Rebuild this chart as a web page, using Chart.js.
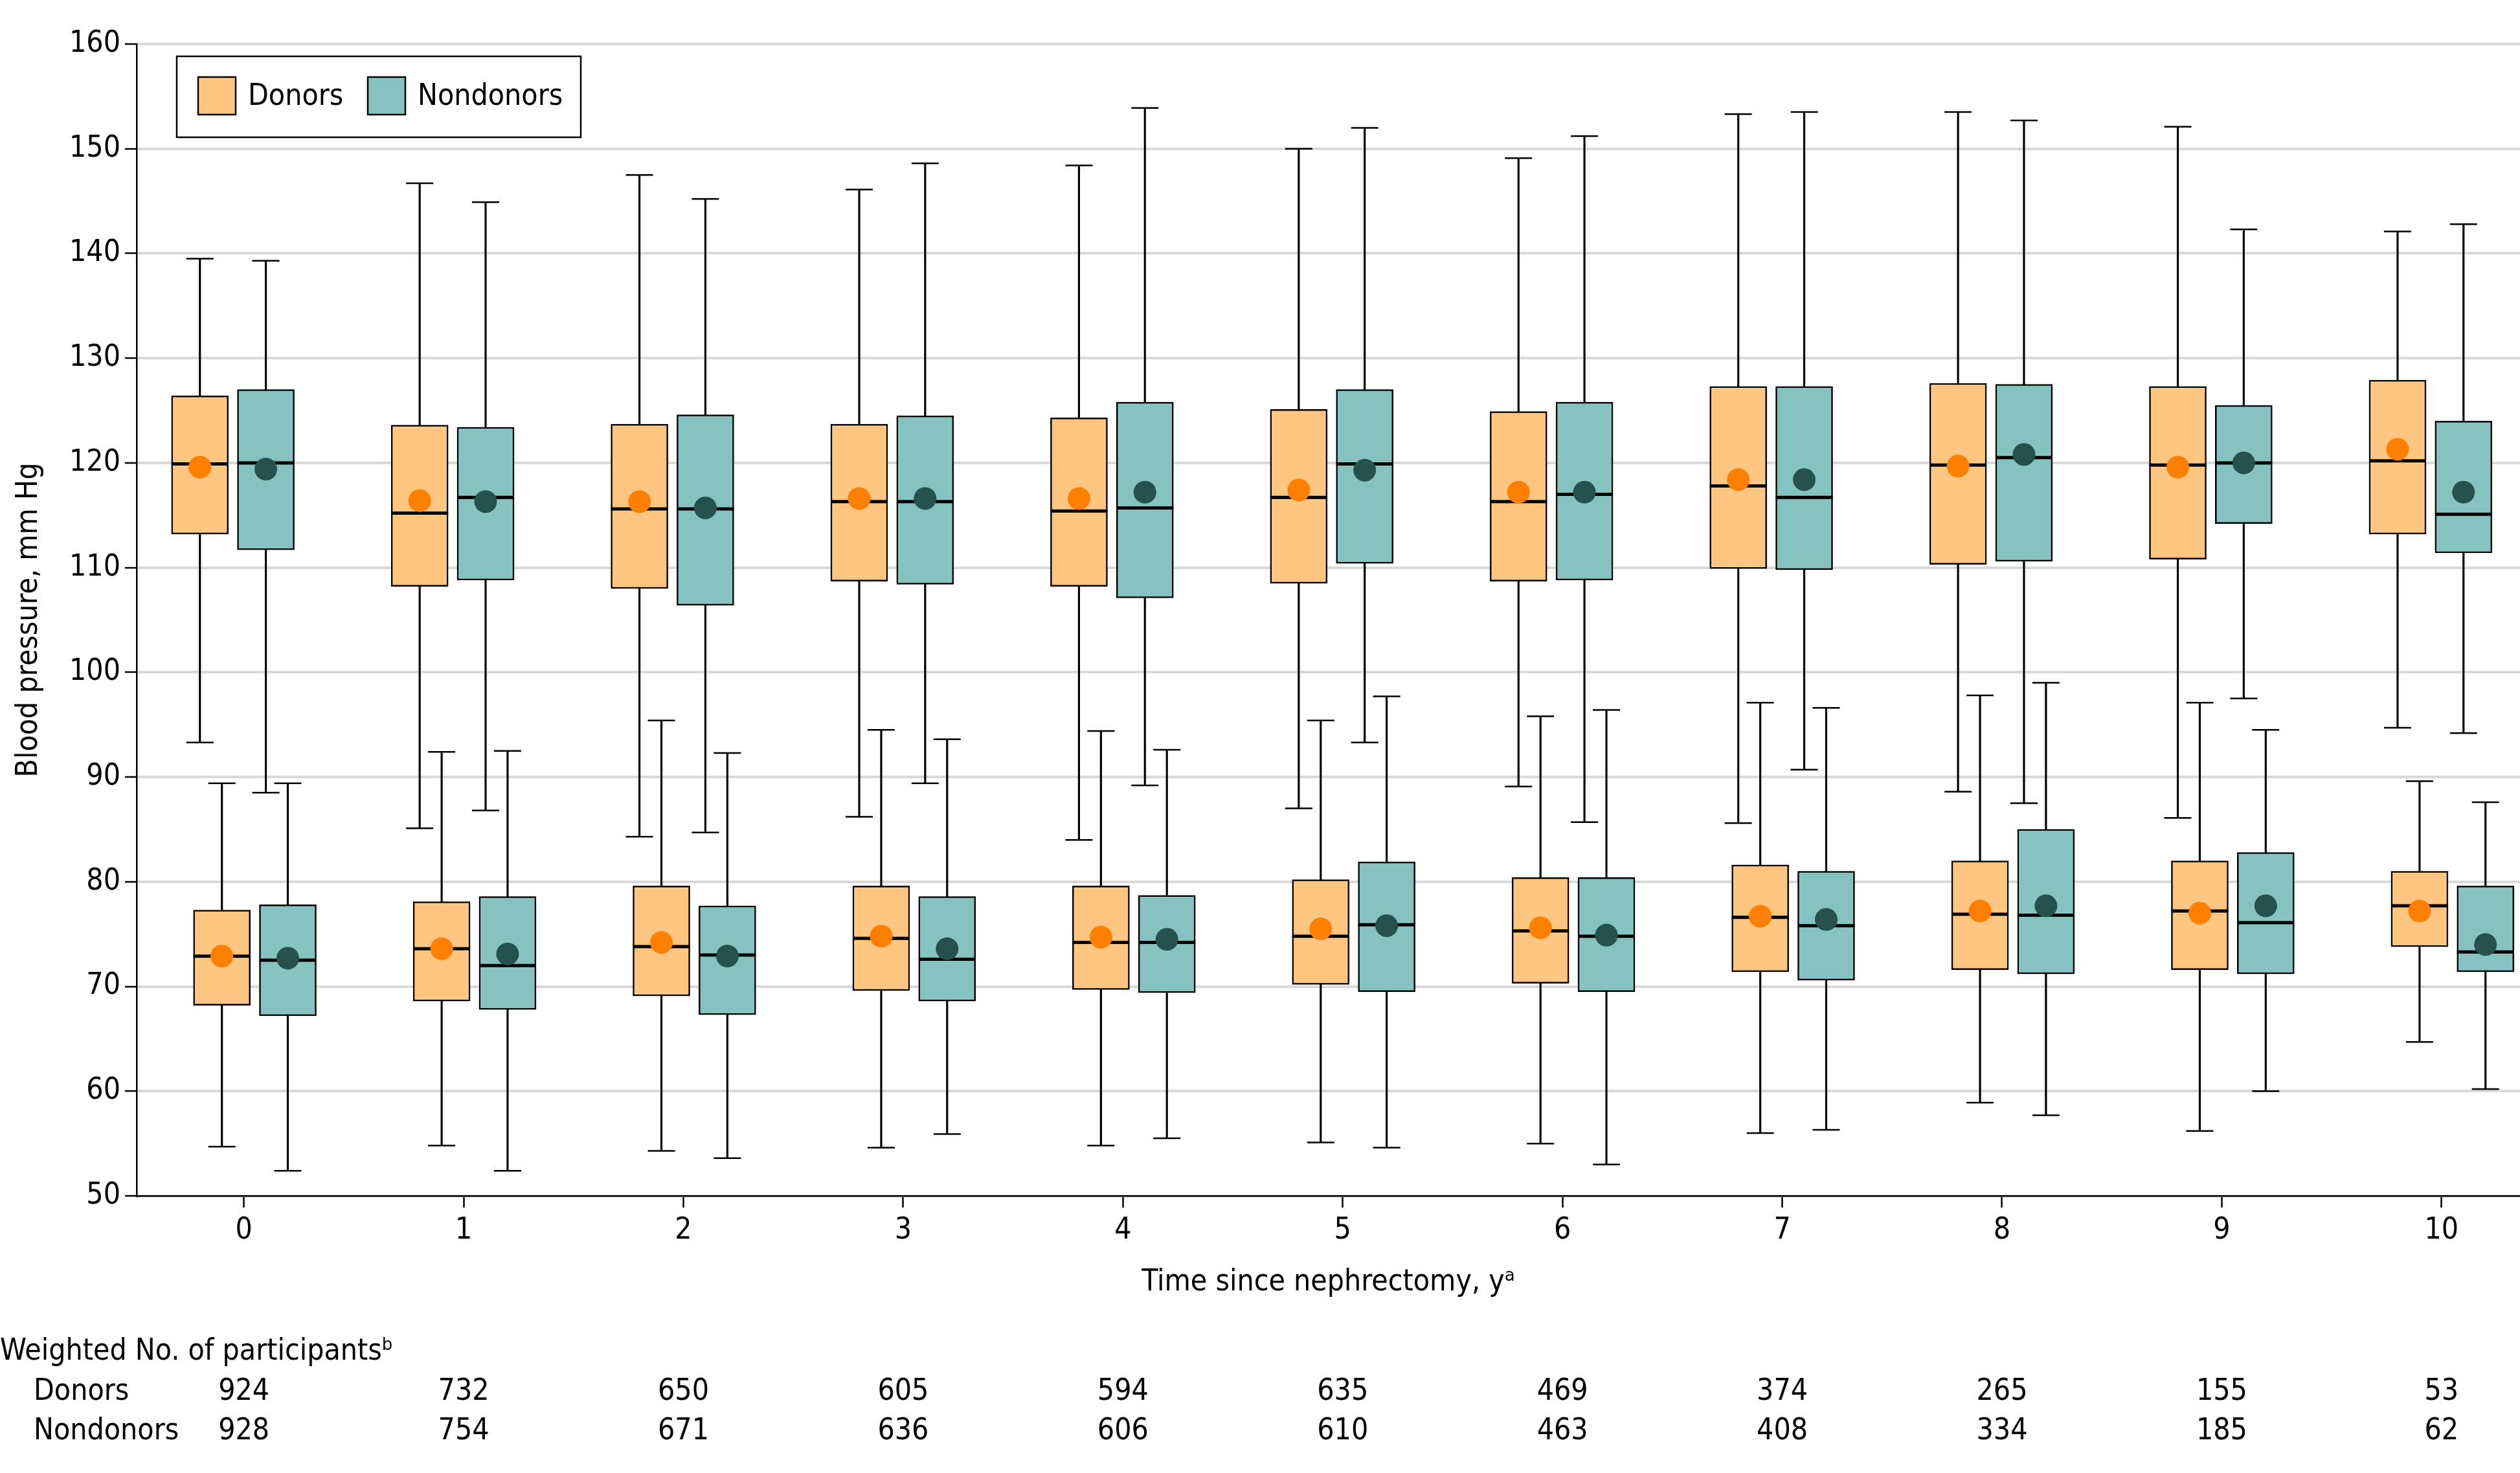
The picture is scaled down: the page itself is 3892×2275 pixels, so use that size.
<!DOCTYPE html>
<html>
<head>
<meta charset="utf-8">
<script src="https://cdn.jsdelivr.net/npm/chart.js@4.4.1/dist/chart.umd.min.js"></script>
<style>
  html, body { margin: 0; padding: 0; background: #fff; }
  #wrap { width: 3892px; height: 2275px; }
</style>
</head>
<body>
<div id="wrap"><canvas id="bpChart"></canvas></div>
<script>
const years = [0, 1, 2, 3, 4, 5, 6, 7, 8, 9, 10];

// each row: [whisker low, Q1, median, Q3, whisker high, mean]
const donorsSystolic = [
  [93.3, 113.2, 119.9, 126.4, 139.5, 119.6],
  [85.1, 108.2, 115.2, 123.6, 146.7, 116.4],
  [84.3, 108.0, 115.6, 123.7, 147.5, 116.3],
  [86.2, 108.7, 116.3, 123.7, 146.1, 116.6],
  [84.0, 108.2, 115.4, 124.3, 148.4, 116.6],
  [87.0, 108.5, 116.7, 125.1, 150.0, 117.4],
  [89.1, 108.7, 116.3, 124.9, 149.1, 117.2],
  [85.6, 109.9, 117.8, 127.3, 153.3, 118.4],
  [88.6, 110.3, 119.8, 127.6, 153.5, 119.7],
  [86.1, 110.8, 119.8, 127.3, 152.1, 119.6],
  [94.7, 113.2, 120.2, 127.9, 142.1, 121.3]
];
const nondonorsSystolic = [
  [88.5, 111.7, 120.0, 127.0, 139.3, 119.4],
  [86.8, 108.8, 116.7, 123.4, 144.9, 116.3],
  [84.7, 106.4, 115.6, 124.6, 145.2, 115.7],
  [89.4, 108.4, 116.3, 124.5, 148.6, 116.6],
  [89.2, 107.1, 115.7, 125.8, 153.9, 117.2],
  [93.3, 110.4, 119.9, 127.0, 152.0, 119.3],
  [85.7, 108.8, 117.0, 125.8, 151.2, 117.2],
  [90.7, 109.8, 116.7, 127.3, 153.5, 118.4],
  [87.5, 110.6, 120.5, 127.5, 152.7, 120.8],
  [97.5, 114.2, 120.0, 125.5, 142.3, 120.0],
  [94.2, 111.4, 115.1, 124.0, 142.8, 117.2]
];
const donorsDiastolic = [
  [54.7, 68.2, 72.9, 77.3, 89.4, 72.9],
  [54.8, 68.6, 73.6, 78.1, 92.4, 73.6],
  [54.3, 69.1, 73.8, 79.6, 95.4, 74.2],
  [54.6, 69.6, 74.6, 79.6, 94.5, 74.8],
  [54.8, 69.7, 74.2, 79.6, 94.4, 74.7],
  [55.1, 70.2, 74.8, 80.2, 95.4, 75.5],
  [55.0, 70.3, 75.3, 80.4, 95.8, 75.6],
  [56.0, 71.4, 76.6, 81.6, 97.1, 76.7],
  [58.9, 71.6, 76.9, 82.0, 97.8, 77.2],
  [56.2, 71.6, 77.2, 82.0, 97.1, 77.0],
  [64.7, 73.8, 77.7, 81.0, 89.6, 77.2]
];
const nondonorsDiastolic = [
  [52.4, 67.2, 72.5, 77.8, 89.4, 72.7],
  [52.4, 67.8, 72.0, 78.6, 92.5, 73.1],
  [53.6, 67.3, 73.0, 77.7, 92.3, 72.9],
  [55.9, 68.6, 72.6, 78.6, 93.6, 73.6],
  [55.5, 69.4, 74.2, 78.7, 92.6, 74.5],
  [54.6, 69.5, 75.9, 81.9, 97.7, 75.8],
  [53.0, 69.5, 74.8, 80.4, 96.4, 74.9],
  [56.3, 70.6, 75.8, 81.0, 96.6, 76.4],
  [57.7, 71.2, 76.8, 85.0, 99.0, 77.7],
  [60.0, 71.2, 76.1, 82.8, 94.5, 77.7],
  [60.2, 71.4, 73.3, 79.6, 87.6, 74.0]
];

// weighted number of participants per year
const donorsN = [924, 732, 650, 605, 594, 635, 469, 374, 265, 155, 53];
const nondonorsN = [928, 754, 671, 636, 606, 610, 463, 408, 334, 185, 62];

const FONT = '"DejaVu Sans Condensed", "DejaVu Sans", sans-serif';
const DONOR_FILL = '#FEC680';
const NONDONOR_FILL = '#86C2C0';

// box position inside each year group (in x units)
const series = [
  { rows: donorsSystolic, offset: -0.2, fill: DONOR_FILL, mean: '#FF8000' },
  { rows: nondonorsSystolic, offset: 0.1, fill: NONDONOR_FILL, mean: '#25524F' },
  { rows: donorsDiastolic, offset: -0.1, fill: DONOR_FILL, mean: '#FF8000' },
  { rows: nondonorsDiastolic, offset: 0.2, fill: NONDONOR_FILL, mean: '#25524F' }
];

function boxDatasets(s) {
  const xs = years.map(y => y + s.offset);
  return [
    {   // whisker
      type: 'bar',
      data: s.rows.map((r, i) => ({ x: xs[i], y: [r[0], r[4]] })),
      backgroundColor: '#000',
      borderWidth: 0,
      barThickness: 2.5,
      grouped: false,
      order: 5
    },
    {   // box Q1-Q3
      type: 'bar',
      data: s.rows.map((r, i) => ({ x: xs[i], y: [r[1], r[3]] })),
      backgroundColor: s.fill,
      borderColor: '#000',
      borderWidth: 2.5,
      borderSkipped: false,
      barThickness: 88,
      grouped: false,
      order: 4
    },
    {   // whisker caps
      type: 'scatter',
      data: s.rows.flatMap((r, i) => [{ x: xs[i], y: r[0] }, { x: xs[i], y: r[4] }]),
      pointStyle: 'line',
      pointRadius: 21,
      borderColor: '#000',
      borderWidth: 2.5,
      order: 3
    },
    {   // median
      type: 'scatter',
      data: s.rows.map((r, i) => ({ x: xs[i], y: r[2] })),
      pointStyle: 'line',
      pointRadius: 44,
      borderColor: '#000',
      borderWidth: 5,
      order: 2
    },
    {   // mean
      type: 'scatter',
      data: s.rows.map((r, i) => ({ x: xs[i], y: r[5] })),
      pointStyle: 'circle',
      pointRadius: 17.5,
      backgroundColor: s.mean,
      borderWidth: 0,
      order: 1
    }
  ];
}

// legend box inside the plot
const legendBox = {
  id: 'legendBox',
  afterDraw(chart) {
    const { ctx, chartArea } = chart;
    const L = chartArea.left, T = chartArea.top;
    ctx.save();
    ctx.lineWidth = 2.5;
    ctx.strokeStyle = '#000';
    ctx.fillStyle = '#fff';
    ctx.fillRect(L + 62, T + 19, 624, 125);
    ctx.strokeRect(L + 62, T + 19, 624, 125);
    const items = [['Donors', DONOR_FILL, 95], ['Nondonors', NONDONOR_FILL, 357]];
    ctx.font = '46px ' + FONT;
    ctx.textBaseline = 'middle';
    ctx.textAlign = 'left';
    items.forEach(([label, color, dx]) => {
      ctx.fillStyle = color;
      ctx.fillRect(L + dx, T + 51, 58, 58);
      ctx.strokeRect(L + dx, T + 51, 58, 58);
      ctx.fillStyle = '#000';
      ctx.fillText(label, L + dx + 77, T + 82);
    });
    ctx.restore();
  }
};

// participant counts under the axis
const countTable = {
  id: 'countTable',
  afterDraw(chart) {
    const { ctx, chartArea } = chart;
    const x = chart.scales.x;
    const base = chartArea.bottom;
    ctx.save();
    ctx.font = '46px ' + FONT;
    ctx.fillStyle = '#000';
    ctx.textBaseline = 'alphabetic';
    ctx.textAlign = 'left';
    ctx.fillText('Weighted No. of participants\u1D47', 0, base + 253);
    ctx.fillText('Donors', 52, base + 315);
    ctx.fillText('Nondonors', 52, base + 376);
    ctx.textAlign = 'center';
    years.forEach((yr, i) => {
      const px = x.getPixelForValue(yr);
      ctx.fillText(String(donorsN[i]), px, base + 315);
      ctx.fillText(String(nondonorsN[i]), px, base + 376);
    });
    ctx.restore();
  }
};

Chart.defaults.font.family = FONT;
Chart.defaults.font.size = 46;
Chart.defaults.color = '#000';

const ctx = document.getElementById('bpChart').getContext('2d');
new Chart(ctx, {
  type: 'bar',
  data: { datasets: series.flatMap(boxDatasets) },
  options: {
    responsive: true,
    maintainAspectRatio: false,
    animation: false,
    events: [],
    layout: { autoPadding: false, padding: { top: 68, right: 0, bottom: 258, left: 0 } },
    scales: {
      x: {
        type: 'linear',
        min: -0.488,
        max: 10.357,
        offset: false,
        afterBuildTicks: s => { s.ticks = years.map(v => ({ value: v })); },
        afterFit: s => { s.height = 170; },
        ticks: { padding: 8, maxRotation: 0, autoSkip: false, callback: v => v },
        grid: { display: true, drawOnChartArea: false, offset: false, tickLength: 18, tickColor: '#000', tickWidth: 2.5 },
        border: { color: '#000', width: 2.5 },
        title: { display: true, text: 'Time since nephrectomy, y\u1D43', padding: { top: 0, bottom: 8 } }
      },
      y: {
        min: 50,
        max: 160,
        afterFit: s => { s.width = 211; },
        ticks: { stepSize: 10, padding: 7 },
        grid: { color: '#d9d9d9', lineWidth: 4, tickLength: 18, tickColor: '#000', tickWidth: 2.5 },
        border: { color: '#000', width: 2.5 },
        title: { display: true, text: 'Blood pressure, mm Hg', padding: { top: 17, bottom: 0 } }
      }
    },
    plugins: {
      legend: { display: false },
      tooltip: { enabled: false }
    }
  },
  plugins: [legendBox, countTable]
});
</script>
</body>
</html>
